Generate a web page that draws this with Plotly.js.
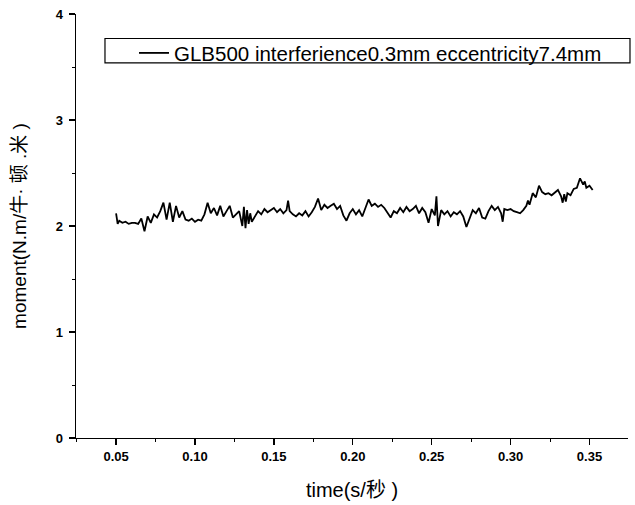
<!DOCTYPE html>
<html>
<head>
<meta charset="utf-8">
<script src="https://cdn.plot.ly/plotly-3.0.1.min.js"></script>
<style>html,body{margin:0;padding:0;background:#fff;}#chart{width:635px;height:505px;}</style>
</head>
<body>
<div id="chart"></div>
<script>
const seriesName = "GLB500 interferience0.3mm eccentricity7.4mm";
const timeValues = [
0.050,0.051,0.052,0.054,0.056,0.058,0.060,0.062,0.064,0.066,0.068,0.070,0.072,0.074,0.076,0.078,0.080,0.082,0.084,0.086,0.088,0.090,0.092,0.094,0.096,0.098,
0.100,0.102,0.104,0.106,0.108,0.110,0.112,0.114,0.116,0.118,0.120,0.122,0.124,0.126,0.128,0.130,0.131,0.132,0.133,0.134,0.135,0.136,0.138,
0.140,0.142,0.144,0.146,0.148,0.150,0.152,0.154,0.156,0.158,0.159,0.160,0.162,0.164,0.166,0.168,0.170,0.172,0.174,0.176,0.178,
0.180,0.182,0.184,0.186,0.188,0.190,0.192,0.194,0.196,0.198,0.200,0.202,0.204,0.206,0.208,0.210,0.212,0.214,0.216,0.218,
0.220,0.222,0.224,0.226,0.228,0.230,0.232,0.234,0.236,0.238,0.240,0.242,0.244,0.246,0.248,0.250,0.252,0.253,0.254,0.256,0.258,
0.260,0.262,0.264,0.266,0.268,0.270,0.272,0.274,0.276,0.278,0.280,0.282,0.284,0.286,0.288,0.290,0.292,0.294,0.295,0.296,0.298,
0.300,0.302,0.304,0.306,0.308,0.310,0.311,0.312,0.314,0.316,0.318,0.320,0.322,0.324,0.326,0.328,0.330,0.332,0.333,0.334,0.335,0.336,0.338,
0.340,0.342,0.344,0.346,0.347,0.348,0.350,0.352
];
const momentValues = [
2.12,2.02,2.05,2.03,2.04,2.02,2.03,2.03,2.02,2.07,1.95,2.09,2.03,2.11,2.08,2.14,2.22,2.06,2.22,2.04,2.19,2.08,2.14,2.06,2.05,2.07,
2.04,2.06,2.05,2.11,2.22,2.12,2.17,2.10,2.19,2.09,2.14,2.19,2.08,2.11,2.14,2.00,2.18,1.98,2.15,2.02,2.12,2.04,2.09,
2.14,2.11,2.16,2.13,2.15,2.17,2.13,2.16,2.12,2.15,2.24,2.14,2.11,2.09,2.12,2.10,2.14,2.09,2.13,2.18,2.26,
2.15,2.20,2.17,2.19,2.21,2.16,2.19,2.10,2.05,2.12,2.16,2.11,2.15,2.09,2.17,2.25,2.19,2.21,2.18,2.20,
2.17,2.13,2.08,2.14,2.12,2.17,2.13,2.18,2.14,2.16,2.19,2.12,2.17,2.13,2.03,2.16,2.10,2.28,2.00,2.15,2.11,
2.14,2.09,2.13,2.11,2.14,2.09,1.99,2.08,2.15,2.12,2.17,2.08,2.07,2.14,2.19,2.15,2.18,2.12,2.04,2.16,2.15,
2.16,2.14,2.13,2.12,2.15,2.19,2.24,2.20,2.31,2.27,2.38,2.32,2.30,2.31,2.29,2.32,2.34,2.28,2.22,2.30,2.23,2.31,2.29,
2.35,2.36,2.45,2.39,2.42,2.36,2.38,2.34
];
const xTickVals = [0.05,0.10,0.15,0.20,0.25,0.30,0.35];
const xTickText = ["0.05","0.10","0.15","0.20","0.25","0.30","0.35"];
const yTickVals = [0,1,2,3,4];
const yTickText = ["0","1","2","3","4"];

const fontFam = "Liberation Sans, Arial, Noto Sans CJK SC, sans-serif";
const tickFont = {family: fontFam, size: 13, color: "#000", weight: "bold"};

const trace = {
  x: timeValues, y: momentValues, type: "scatter", mode: "lines",
  name: seriesName, line: {color: "#000", width: 1.8}
};

const layout = {
  width: 635, height: 505,
  margin: {l: 76, r: 7, t: 14, b: 67, autoexpand: false},
  paper_bgcolor: "#fff", plot_bgcolor: "#fff",
  showlegend: true,
  legend: {
    x: 0.0525, y: 0.955, xanchor: "left", yanchor: "top",
    borderwidth: 0, bgcolor: "rgba(0,0,0,0)",
    orientation: "h", entrywidth: 430, entrywidthmode: "pixels",
    indentation: 29,
    font: {family: fontFam, size: 20.5, color: "#000"}
  },
  shapes: [{
    type: "rect", xref: "paper", yref: "paper",
    x0: 0.0525, x1: 1.0036, y0: 0.8845, y1: 0.9422,
    line: {color: "#000", width: 1.2}, fillcolor: "rgba(0,0,0,0)"
  }],
  xaxis: {
    range: [0.0246, 0.3744], showgrid: false, zeroline: false,
    showline: true, linecolor: "#000", linewidth: 1.3,
    ticks: "outside", ticklen: 6, tickwidth: 1.3, tickcolor: "#000",
    tickvals: xTickVals, ticktext: xTickText, tickfont: tickFont,
    minor: {dtick: 0.025, tick0: 0.025, ticks: "outside", ticklen: 3, tickwidth: 1, tickcolor: "#000", showgrid: false},
    title: {text: "time(s/秒 )", font: {family: fontFam, size: 20, color: "#000"}, standoff: 20}
  },
  yaxis: {
    range: [0, 4], showgrid: false, zeroline: false,
    showline: true, linecolor: "#000", linewidth: 1.3,
    ticks: "outside", ticklen: 6, tickwidth: 1.3, tickcolor: "#000",
    ticklabelstandoff: 3,
    tickvals: yTickVals, ticktext: yTickText, tickfont: tickFont,
    minor: {dtick: 0.5, tick0: 0, ticks: "outside", ticklen: 3, tickwidth: 1, tickcolor: "#000", showgrid: false},
    title: {text: "moment(N.m/牛· 顿 .米 )", font: {family: fontFam, size: 19, color: "#000"}, standoff: 24}
  }
};

Plotly.newPlot("chart", [trace], layout, {displayModeBar: false, staticPlot: true});
</script>
</body>
</html>
